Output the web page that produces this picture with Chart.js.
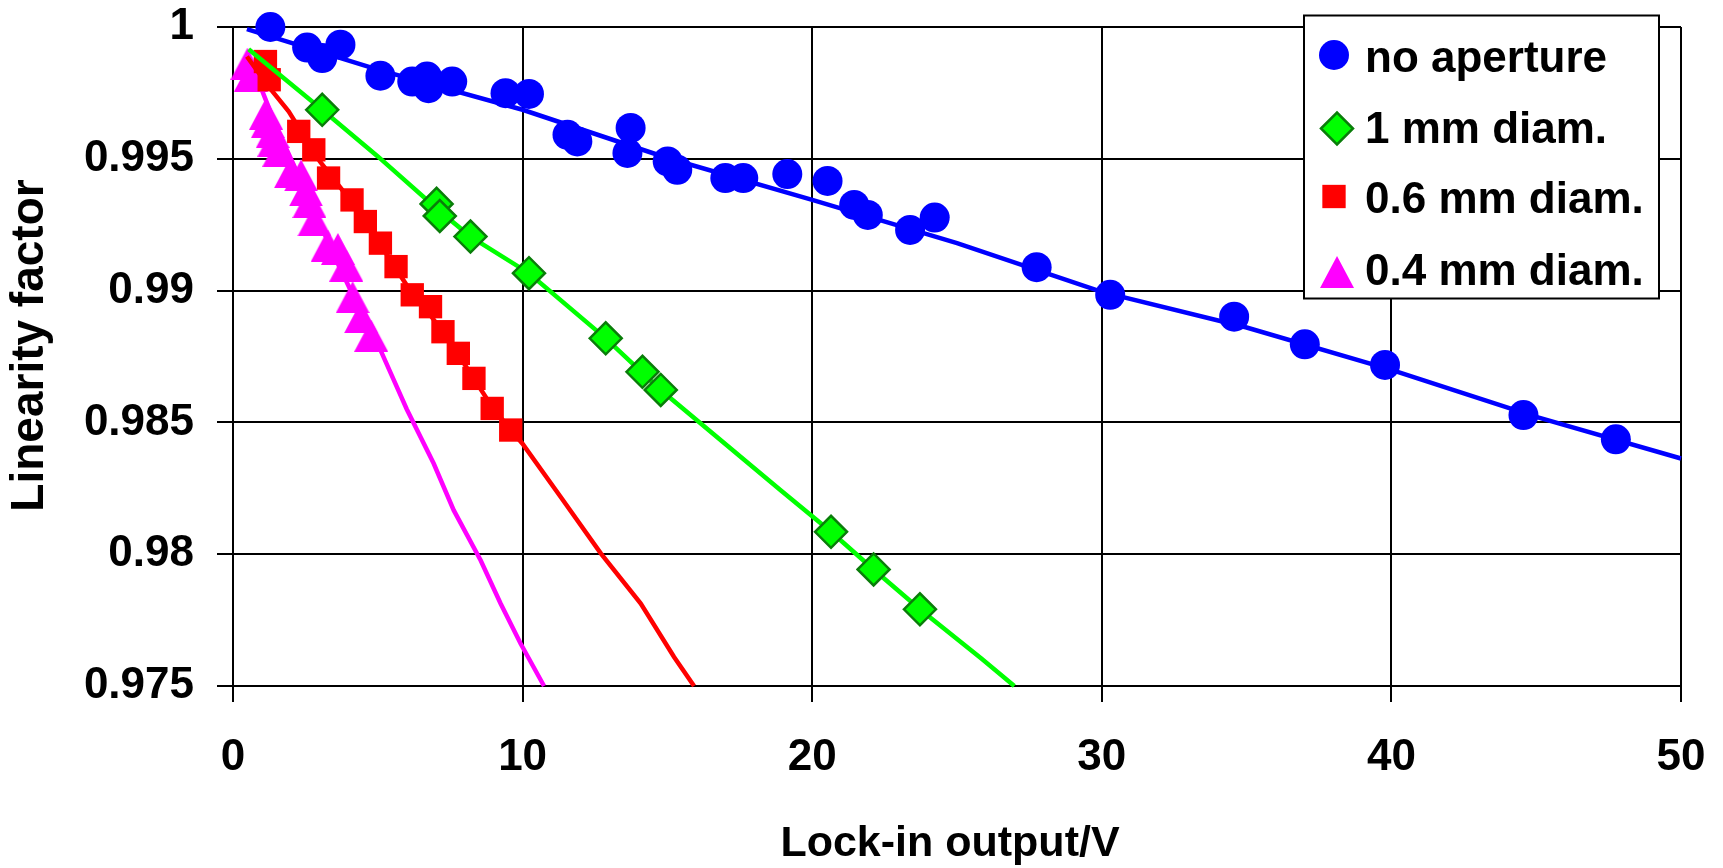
<!DOCTYPE html>
<html>
<head>
<meta charset="utf-8">
<title>Linearity factor vs lock-in output</title>
<script src="https://cdn.jsdelivr.net/npm/chart.js@4.4.1/dist/chart.umd.min.js"></script>
<style>
  html, body { margin: 0; padding: 0; background: #fff; }
  #wrap { width: 1723px; height: 868px; }
</style>
</head>
<body>
<div id="wrap"><canvas id="c" width="1723" height="868"></canvas></div>
<script>
// ---- data ----
const seriesNames = ['no aperture', '1 mm diam.', '0.6 mm diam.', '0.4 mm diam.'];
const xTitleText = 'Lock-in output/V';
const yTitleText = 'Linearity factor';

// measured points
const noApX = [1.29, 2.56, 3.08, 3.71, 5.09, 6.19, 6.70, 6.75, 7.57, 9.41, 10.22, 11.55, 11.89, 13.62, 13.73, 15.01, 15.34, 17.00, 17.62, 19.14, 20.53, 21.45, 21.92, 23.38, 24.23, 27.75, 30.29, 34.57, 37.01, 39.78, 44.56, 47.75];
const noApY = [1.0000, 0.99922, 0.99882, 0.99933, 0.99815, 0.99793, 0.99812, 0.99768, 0.99793, 0.99749, 0.99746, 0.99591, 0.99566, 0.99522, 0.99617, 0.99490, 0.99458, 0.99427, 0.99427, 0.99442, 0.99416, 0.99325, 0.99287, 0.99230, 0.99277, 0.99089, 0.98984, 0.98901, 0.98796, 0.98718, 0.98528, 0.98436];

const oneX = [3.08, 7.03, 7.14, 8.20, 10.22, 12.87, 14.14, 14.77, 20.65, 22.12, 23.72];
const oneY = [0.99686, 0.99329, 0.99283, 0.99205, 0.99066, 0.98819, 0.98692, 0.98623, 0.98085, 0.97942, 0.97791];

const sixX = [1.12, 1.25, 2.27, 2.79, 3.30, 4.11, 4.57, 5.09, 5.63, 6.19, 6.82, 7.25, 7.78, 8.32, 8.95, 9.59];
const sixY = [0.99869, 0.99800, 0.99604, 0.99534, 0.99427, 0.99344, 0.99262, 0.99180, 0.99091, 0.98984, 0.98939, 0.98844, 0.98762, 0.98667, 0.98553, 0.98471];

const fourX = [0.50, 0.62, 1.14, 1.20, 1.37, 1.43, 1.60, 2.00, 2.35, 2.52, 2.64, 2.81, 3.27, 3.62, 3.91, 4.13, 4.42, 4.77];
const fourY = [0.99861, 0.99816, 0.99671, 0.99639, 0.99601, 0.99569, 0.99531, 0.99449, 0.99437, 0.99380, 0.99336, 0.99266, 0.99171, 0.99158, 0.99095, 0.98975, 0.98899, 0.98829];

// fitted curves
const noApFitX = [0.48, 5, 10, 15, 20, 25, 30, 35, 40, 45, 50];
const noApFitY = [0.99992, 0.99838, 0.99686, 0.99503, 0.99344, 0.99180, 0.98995, 0.98860, 0.98699, 0.98521, 0.98363];

const oneFitX = [0.54, 3.08, 5, 7.1, 8.2, 10.22, 12.87, 14.77, 18.92, 20.65, 22.12, 23.72, 25.83, 26.98];
const oneFitY = [0.99916, 0.99686, 0.99509, 0.99305, 0.99205, 0.99066, 0.98819, 0.98623, 0.98242, 0.98085, 0.97942, 0.97791, 0.97605, 0.97500];

const sixFitX = [0.48, 1.23, 1.92, 3, 4, 5, 6, 7, 8, 9, 9.99, 11.31, 12.7, 14.08, 15.23, 15.92];
const sixFitY = [0.99888, 0.99774, 0.99680, 0.99490, 0.99350, 0.99190, 0.99020, 0.98880, 0.98720, 0.98550, 0.98420, 0.98218, 0.98003, 0.97813, 0.97610, 0.97500];

const fourFitX = [0.5, 1.5, 2.5, 3.5, 4.5, 5.09, 6.0, 6.93, 7.62, 8.55, 9.24, 9.93, 10.74];
const fourFitY = [0.9990, 0.9962, 0.9938, 0.9913, 0.9890, 0.98775, 0.98550, 0.98344, 0.98167, 0.97977, 0.97813, 0.97661, 0.97500];

// axes
const xTicks = [0, 10, 20, 30, 40, 50];
const xTickLabels = ['0', '10', '20', '30', '40', '50'];
const yTicks = [0.975, 0.98, 0.985, 0.99, 0.995, 1];
const yTickLabels = ['0.975', '0.98', '0.985', '0.99', '0.995', '1'];

// ---- styling ----
const FONT = '"Liberation Sans", Arial, Helvetica, sans-serif';
const BLUE = '#0000FF', GREEN = '#00FF00', GREEN_EDGE = '#0A7D0A', RED = '#FF0000', MAGENTA = '#FF00FF';

// triangle marker centred on its bounding box
function makeTriangle(w, h, color) {
  const c = document.createElement('canvas');
  c.width = w; c.height = h;
  const g = c.getContext('2d');
  g.fillStyle = color;
  g.beginPath();
  g.moveTo(w / 2, 0);
  g.lineTo(w, h);
  g.lineTo(0, h);
  g.closePath();
  g.fill();
  return c;
}
const triangleMark = makeTriangle(34, 32, MAGENTA);

const pts = (xs, ys) => xs.map((x, i) => ({ x: x, y: ys[i] }));

function markerSet(label, xs, ys, style, order) {
  return Object.assign({
    label: label,
    data: pts(xs, ys),
    showLine: false,
    clip: false,
    order: order
  }, style);
}
function curveSet(xs, ys, color, order) {
  return {
    label: '',
    data: pts(xs, ys),
    showLine: true,
    borderColor: color,
    borderWidth: 4.5,
    pointRadius: 0,
    pointHoverRadius: 0,
    tension: 0,
    fill: false,
    clip: false,
    order: order,
    isCurve: true
  };
}

const datasets = [
  markerSet(seriesNames[0], noApX, noApY, { pointStyle: 'circle', pointRadius: 15, pointBackgroundColor: BLUE, pointBorderColor: BLUE, pointBorderWidth: 0, backgroundColor: BLUE, borderColor: BLUE }, 1),
  curveSet(noApFitX, noApFitY, BLUE, 2),
  markerSet(seriesNames[1], oneX, oneY, { pointStyle: 'rectRot', pointRadius: 16, pointBackgroundColor: GREEN, pointBorderColor: GREEN_EDGE, pointBorderWidth: 2.5, backgroundColor: GREEN, borderColor: GREEN_EDGE }, 3),
  curveSet(oneFitX, oneFitY, GREEN, 4),
  markerSet(seriesNames[2], sixX, sixY, { pointStyle: 'rect', pointRadius: 16.5, pointBackgroundColor: RED, pointBorderColor: RED, pointBorderWidth: 0, backgroundColor: RED, borderColor: RED }, 5),
  curveSet(sixFitX, sixFitY, RED, 6),
  markerSet(seriesNames[3], fourX, fourY, { pointStyle: triangleMark, pointRadius: 17, pointBackgroundColor: MAGENTA, pointBorderColor: MAGENTA, pointBorderWidth: 0, backgroundColor: MAGENTA, borderColor: MAGENTA }, 7),
  curveSet(fourFitX, fourFitY, MAGENTA, 8)
];

// boxed legend inside the upper right of the plot
const boxLegend = {
  id: 'boxLegend',
  afterDraw(chart) {
    const ctx = chart.ctx;
    const a = chart.chartArea;
    const left = a.right - 377, top = a.top - 11.5, w = 355, h = 283;
    ctx.save();
    ctx.fillStyle = '#fff';
    ctx.fillRect(left, top, w, h);
    ctx.strokeStyle = '#000';
    ctx.lineWidth = 2;
    ctx.strokeRect(left, top, w, h);

    const markers = chart.data.datasets.filter(d => !d.isCurve);
    const markerDx = [30, 33, 30, 33];
    const rowDy = [39.5, 113, 181, 256.5];
    const textDy = [56, 127.5, 197.5, 269.5];
    markers.forEach((d, i) => {
      ctx.fillStyle = d.pointBackgroundColor;
      ctx.strokeStyle = d.pointBorderColor;
      ctx.lineWidth = d.pointBorderWidth;
      Chart.helpers.drawPoint(ctx, {
        pointStyle: d.pointStyle,
        radius: d.pointRadius,
        rotation: 0,
        borderWidth: d.pointBorderWidth
      }, left + markerDx[i], top + rowDy[i]);
      ctx.fillStyle = '#000';
      ctx.font = 'bold 44px ' + FONT;
      ctx.textAlign = 'left';
      ctx.textBaseline = 'alphabetic';
      ctx.fillText(d.label, left + 61, top + textDy[i]);
    });
    ctx.restore();
  }
};

// axis titles, each set slightly off the middle of its axis
const axisTitles = {
  id: 'axisTitles',
  afterDraw(chart) {
    const ctx = chart.ctx;
    const a = chart.chartArea;
    ctx.save();
    ctx.fillStyle = '#000';
    ctx.textAlign = 'center';
    ctx.textBaseline = 'middle';

    ctx.font = 'bold 43px ' + FONT;
    ctx.fillText(xTitleText, (a.left + a.right) / 2 - 7, chart.height - 24);

    ctx.translate(30, (a.top + a.bottom) / 2 - 11);
    ctx.rotate(-Math.PI / 2);
    ctx.font = 'bold 46px ' + FONT;
    ctx.fillText(yTitleText, 0, 0);
    ctx.restore();
  }
};

new Chart(document.getElementById('c'), {
  type: 'scatter',
  data: { datasets: datasets },
  plugins: [boxLegend, axisTitles],
  options: {
    responsive: false,
    animation: false,
    devicePixelRatio: 1,
    events: [],
    layout: { padding: { left: 0, right: 42, top: 27, bottom: 0 } },
    plugins: {
      legend: { display: false },
      tooltip: { enabled: false }
    },
    scales: {
      x: {
        type: 'linear',
        min: 0,
        max: 50,
        afterBuildTicks: s => { s.ticks = xTicks.map(v => ({ value: v })); },
        afterFit: s => { s.height = 182; s.paddingLeft = 0; s.paddingRight = 0; },
        grid: { color: '#000', lineWidth: 2, tickLength: 16, tickColor: '#000', tickWidth: 2 },
        border: { color: '#000', width: 2 },
        ticks: {
          color: '#000',
          font: { family: FONT, size: 44, weight: 'bold' },
          padding: 29,
          maxRotation: 0,
          autoSkip: false,
          callback: (v, i) => xTickLabels[i]
        },
        title: { display: false }
      },
      y: {
        type: 'linear',
        min: 0.975,
        max: 1,
        afterBuildTicks: s => { s.ticks = yTicks.map(v => ({ value: v })); },
        afterFit: s => { s.width = 233; s.paddingTop = 0; s.paddingBottom = 0; },
        grid: { color: '#000', lineWidth: 2, tickLength: 16, tickColor: '#000', tickWidth: 2 },
        border: { color: '#000', width: 2 },
        ticks: {
          color: '#000',
          font: { family: FONT, size: 44, weight: 'bold' },
          padding: 23,
          autoSkip: false,
          callback: (v, i) => yTickLabels[i]
        },
        title: { display: false }
      }
    }
  }
});
</script>
</body>
</html>
